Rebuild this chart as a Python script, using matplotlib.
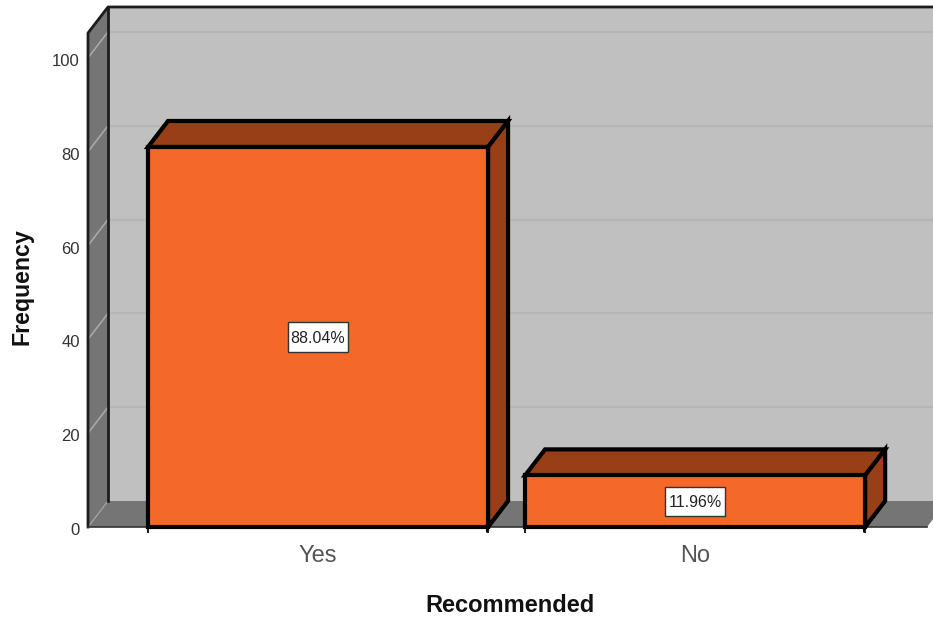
import matplotlib
matplotlib.use("Agg")
import matplotlib.pyplot as plt
from matplotlib.patches import Polygon, Rectangle
from matplotlib.transforms import ScaledTranslation

categories = ["Yes", "No"]
frequency = [81, 11]
percent_labels = ["88.04%", "11.96%"]
y_ticks = [0, 20, 40, 60, 80, 100]

FACE = "#f4682a"
SIDE = "#983f18"
WALL = "#c0c0c0"
SHADE = "#757575"
GRID = "#b6b6b6"

plt.rcParams["font.family"] = ["Liberation Sans", "DejaVu Sans"]

W, H = 933, 618
fig = plt.figure(figsize=(W / 100, H / 100), dpi=100)
ax = fig.add_axes([88 / W, (H - 527) / H, 839 / W, 494 / H])
ax.set_xlim(-0.61, 1.615)
ax.set_ylim(0, 105.3)
ax.patch.set_visible(False)
for s in ax.spines.values():
    s.set_visible(False)

# depth of the fake 3d box, in data units
px_x = 1 / 377
px_y = 1 / 4.69
dx = 20 * px_x
dy = 26 * px_y
bar_w = 340 * px_x
x0, x1 = ax.get_xlim()
y1 = ax.get_ylim()[1]


def poly(pts, fc, ec="none", lw=0, z=1):
    ax.add_patch(Polygon(pts, closed=True, fc=fc, ec=ec, lw=lw, zorder=z,
                         clip_on=False, joinstyle="miter"))


# back wall, side wall, floor
poly([(x0 + dx, dy), (x1 + dx, dy), (x1 + dx, y1 + dy), (x0 + dx, y1 + dy)], WALL)
poly([(x0, 0), (x0 + dx, dy), (x0 + dx, y1 + dy), (x0, y1)], SHADE)
poly([(x0, 0), (x1, 0), (x1 + dx, dy), (x0 + dx, dy)], SHADE)

for t in y_ticks[1:]:
    ax.plot([x0 + dx, x1 + dx], [t + dy, t + dy], color=GRID, lw=1.5, zorder=2, clip_on=False)
    ax.plot([x0, x0 + dx], [t, t + dy], color="#a8a8a8", lw=1.2, zorder=2, clip_on=False)
ax.plot([x0, x0 + dx], [0, dy], color="#a8a8a8", lw=0.8, zorder=2, clip_on=False)

# box outline
ax.plot([x0, x0, x0 + dx, x1 + dx], [0, y1, y1 + dy, y1 + dy], color="#1c1c1c", lw=2, zorder=3, clip_on=False)
ax.plot([x0 + dx, x0 + dx], [dy, y1 + dy], color="#1c1c1c", lw=2, zorder=3, clip_on=False)
ax.plot([x0, x1], [0, 0], color="#333333", lw=1.2, zorder=3, clip_on=False)

# bars with their top and side faces
for i, v in enumerate(frequency):
    l, r = i - bar_w / 2, i + bar_w / 2
    poly([(l, v), (r, v), (r + dx, v + dy), (l + dx, v + dy)], SIDE, "black", 3, 5)
    poly([(r, 0), (r + dx, dy), (r + dx, v + dy), (r, v)], SIDE, "black", 3, 5)
    poly([(l, 0), (r, 0), (r, v), (l, v)], FACE, "black", 3, 6)
    # value box is taller than its text
    bw, bh = 60 * px_x, 29 * px_y
    ax.add_patch(Rectangle((i - bw / 2, v / 2 - bh / 2), bw, bh, fc="white", ec="#333333", lw=1, zorder=7))
    ax.text(i, v / 2 - 1.5 * px_y, percent_labels[i], ha="center", va="center", fontsize=11.5,
            color="#222222", zorder=8)

ax.set_yticks(y_ticks)
ax.set_xticks(range(len(categories)), categories)
ax.tick_params(axis="y", length=0, pad=6, labelsize=12, labelcolor="#333333")
ax.tick_params(axis="x", length=0, pad=13, labelsize=17, labelcolor="#555555")
edges = [i + s * bar_w / 2 for i in range(len(categories)) for s in (-1, 1)]
ax.set_xticks(edges, minor=True)
ax.tick_params(axis="x", which="minor", length=4, width=1.5, color="#222222")

# y labels sit a little below their gridline level
shift = ScaledTranslation(0, -2 / 100, fig.dpi_scale_trans)
for lab in ax.get_yticklabels():
    lab.set_transform(lab.get_transform() + shift)

fig.text(510 / W, 1 - 606 / H, "Recommended", ha="center", va="center", fontsize=17, fontweight="bold", color="#111111")
fig.text(22 / W, 1 - 287 / H, "Frequency", ha="center", va="center", rotation=90, fontsize=16.7, fontweight="bold", color="#111111")

fig.savefig("out.png", dpi=100)
